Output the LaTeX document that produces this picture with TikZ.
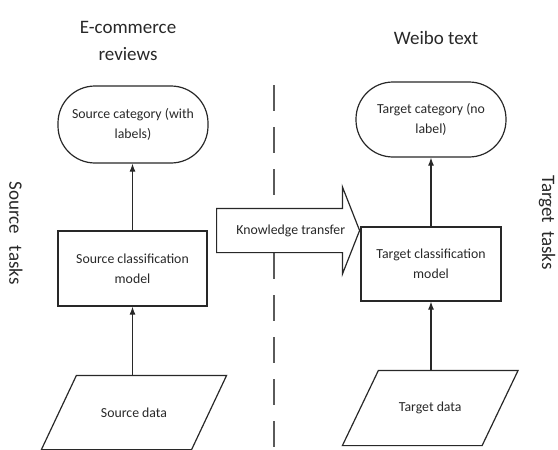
\documentclass[tikz,border=0pt]{standalone}
\usepackage{fontspec}
\setmainfont{Carlito}
\usepackage{tikz}
\usetikzlibrary{arrows.meta,shapes.arrows}
\definecolor{myline}{RGB}{40,40,40}
\definecolor{mydash}{RGB}{90,90,90}

\begin{document}
\begin{tikzpicture}[x=1pt,y=-1pt,line width=1.2pt,draw=myline,text=myline,
  boxtext/.style={font=\fontsize{13.8}{20}\selectfont, align=center},
  bigtext/.style={font=\fontsize{19}{27}\selectfont, align=center},
  catbox/.style={draw, rectangle, rounded corners=37pt, minimum width=150pt, boxtext},
  modelbox/.style={draw, rectangle, boxtext},
  databox/.style={rectangle, boxtext},
  flow/.style={-{Latex[length=8pt,width=6pt]}}]
  \useasboundingbox (0,0) rectangle (558,450);

  % Column titles
  \node[bigtext] (ecom) at (128,41) {E-commerce\\reviews};
  \node[bigtext] (weibo) at (436,38) {Weibo text};

  % Side labels
  \node[bigtext, rotate=-90] (srctask) at (16,233) {Source\hspace{12pt}tasks};
  \node[bigtext, rotate=-90] (tgttask) at (547,222.5) {Target\hspace{8pt}tasks};

  % Dashed divider
  \coordinate (divtop) at (274,85);
  \coordinate (divbot) at (274,450);
  \draw[mydash, line width=1.3pt, dash pattern=on 26pt off 16pt] (divtop) -- (divbot);

  % Source side
  \node[catbox, minimum height=77pt] (srccat) at (133,124.5) {Source category (with\\labels)};
  \node[modelbox, minimum width=149pt, minimum height=75pt] (srcmod) at (132.5,268.5) {Source classification\\model};
  \node[databox, minimum width=149pt, minimum height=73pt] (srcdata) at (134,412.5) {Source data};
  \draw ([xshift=17.5pt]srcdata.north west) -- ([xshift=17.5pt]srcdata.north east)
    -- ([xshift=-17.5pt]srcdata.south east) -- ([xshift=-17.5pt]srcdata.south west) -- cycle;

  % Target side
  \node[catbox, minimum height=75pt] (tgtcat) at (431,119.5) {Target category (no\\label)};
  \node[modelbox, minimum width=140pt, minimum height=74pt] (tgtmod) at (431,264) {Target classification\\model};
  \node[databox, minimum width=138.5pt, minimum height=74pt] (tgtdata) at (430.25,408) {Target data};
  \draw ([xshift=18pt]tgtdata.north west) -- ([xshift=18pt]tgtdata.north east)
    -- ([xshift=-18pt]tgtdata.south east) -- ([xshift=-18pt]tgtdata.south west) -- cycle;

  % Flows
  \draw[flow] (srcdata.north -| srcmod.south) -- (srcmod.south);
  \draw[flow] (srcmod.north) -- (srcmod.north |- srccat.south);
  \draw[flow] (tgtdata.north -| tgtmod.south) -- (tgtmod.south);
  \draw[flow] (tgtmod.north) -- (tgtcat.south);

  % Knowledge transfer arrow
  \node[draw, fill=white, single arrow, anchor=tail, inner sep=0pt,
    text height=25.5pt, text depth=17.5pt, minimum height=143pt,
    single arrow head extend=21.5pt, single arrow tip angle=137,
    boxtext] (transfer) at (216,230.5) {\hspace*{14pt}Knowledge transfer};
\end{tikzpicture}
\end{document}
